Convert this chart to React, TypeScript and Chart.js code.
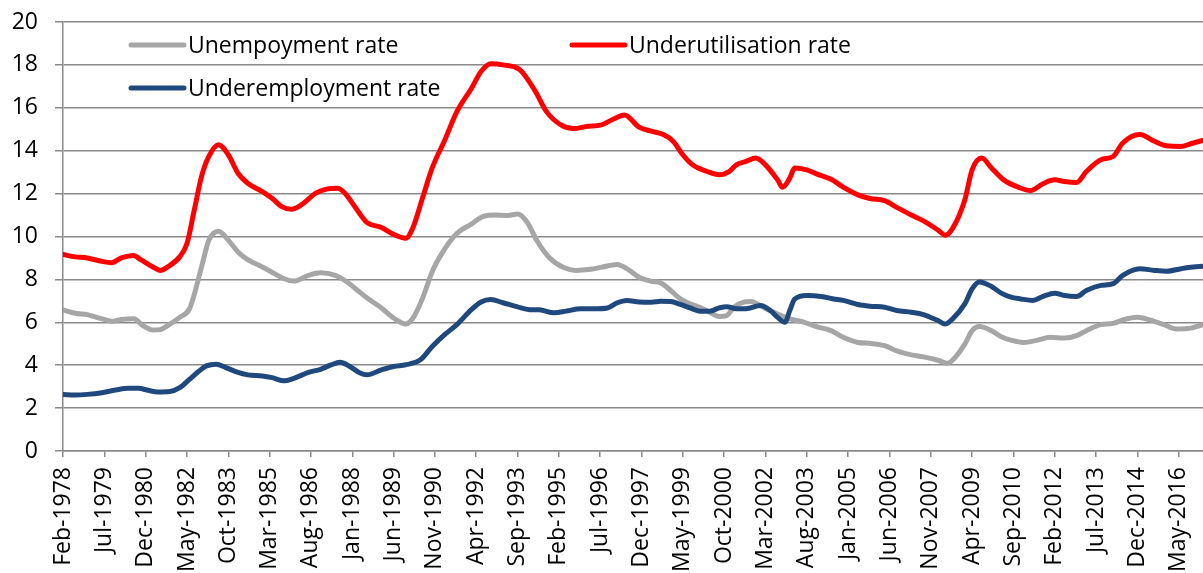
import React, { useEffect, useRef } from "react";
import { Chart, registerables } from "chart.js";

Chart.register(...registerables);

// ---------- data ----------
const MONTH_NAMES = ["Jan", "Feb", "Mar", "Apr", "May", "Jun", "Jul", "Aug", "Sep", "Oct", "Nov", "Dec"];
const FIRST_MONTH = "1978-02";
const LAST_MONTH = "2017-03";
const TICK_STEP_MONTHS = 17;
const Y_MIN = 0;
const Y_MAX = 20;
const Y_STEP = 2;

const seriesNames = ["Unempoyment rate", "Underutilisation rate", "Underemployment rate"];
const seriesColors = ["#A6A6A6", "#FF0000", "#1F497D"];

const unemploymentDates = [
  "1978-02", "1978-07", "1978-12", "1979-06", "1979-10", "1980-02", "1980-07", "1980-11", "1981-03", "1981-06",
  "1981-10", "1982-02", "1982-06", "1982-08", "1982-11", "1983-02", "1983-06", "1983-10", "1984-02", "1984-06",
  "1984-12", "1985-05", "1985-09", "1986-01", "1986-07", "1986-12", "1987-06", "1987-10", "1988-02", "1988-07",
  "1989-01", "1989-06", "1989-11", "1990-02", "1990-06", "1990-10", "1991-03", "1991-08", "1992-02", "1992-07",
  "1992-12", "1993-05", "1993-09", "1994-01", "1994-05", "1994-10", "1995-04", "1995-09", "1996-03", "1996-08",
  "1997-02", "1997-06", "1997-11", "1998-04", "1998-08", "1998-12", "1999-04", "1999-08", "1999-12", "2000-04",
  "2000-08", "2000-11", "2001-02", "2001-06", "2001-09", "2002-02", "2002-08", "2003-01", "2003-07", "2003-12",
  "2004-06", "2004-11", "2005-05", "2005-10", "2006-04", "2006-09", "2007-03", "2007-08", "2008-02", "2008-06",
  "2008-09", "2009-01", "2009-04", "2009-07", "2009-12", "2010-04", "2010-08", "2011-01", "2011-07", "2011-12",
  "2012-06", "2012-11", "2013-03", "2013-09", "2014-02", "2014-06", "2014-12", "2015-05", "2015-11", "2016-04",
  "2016-10", "2017-03",
];
const unemploymentValues = [
  6.58, 6.42, 6.36, 6.16, 6.05, 6.13, 6.16, 5.84, 5.64, 5.66,
  5.92, 6.23, 6.62, 7.3, 8.58, 9.83, 10.25, 9.83, 9.28, 8.92,
  8.58, 8.27, 8.03, 7.92, 8.19, 8.31, 8.19, 7.95, 7.6, 7.14,
  6.67, 6.2, 5.92, 6.2, 7.14, 8.39, 9.41, 10.14, 10.58, 10.94,
  11.0, 10.98, 11.05, 10.66, 9.8, 9.02, 8.55, 8.42, 8.47, 8.58,
  8.7, 8.5, 8.1, 7.91, 7.83, 7.48, 7.09, 6.86, 6.7, 6.47,
  6.27, 6.31, 6.7, 6.94, 6.97, 6.7, 6.39, 6.16, 6.0, 5.8,
  5.61, 5.3, 5.06, 5.02, 4.91, 4.67, 4.48, 4.39, 4.23, 4.09,
  4.36, 4.98, 5.61, 5.8, 5.61, 5.33, 5.17, 5.06, 5.17, 5.3,
  5.27, 5.38, 5.61, 5.89, 5.95, 6.11, 6.23, 6.11, 5.89, 5.69,
  5.73, 5.89,
];

const underutilisationDates = [
  "1978-02", "1978-07", "1978-12", "1979-06", "1979-10", "1980-02", "1980-07", "1980-10", "1981-03", "1981-06",
  "1981-09", "1982-02", "1982-05", "1982-08", "1982-11", "1983-02", "1983-06", "1983-10", "1984-02", "1984-06",
  "1984-12", "1985-04", "1985-08", "1985-12", "1986-04", "1986-10", "1987-02", "1987-07", "1987-10", "1988-02",
  "1988-07", "1989-01", "1989-06", "1989-11", "1990-02", "1990-06", "1990-10", "1991-03", "1991-08", "1992-02",
  "1992-06", "1992-10", "1993-03", "1993-10", "1994-04", "1994-09", "1995-03", "1995-08", "1996-02", "1996-07",
  "1997-01", "1997-05", "1997-11", "1998-04", "1998-09", "1999-01", "1999-05", "1999-09", "2000-03", "2000-08",
  "2000-12", "2001-03", "2001-07", "2001-11", "2002-03", "2002-08", "2002-10", "2003-01", "2003-03", "2003-08",
  "2003-12", "2004-06", "2004-11", "2005-05", "2005-10", "2006-04", "2006-09", "2007-03", "2007-08", "2008-02",
  "2008-05", "2008-08", "2009-01", "2009-04", "2009-08", "2009-12", "2010-05", "2010-11", "2011-04", "2011-09",
  "2012-02", "2012-06", "2012-11", "2013-03", "2013-09", "2014-02", "2014-06", "2015-01", "2015-07", "2015-12",
  "2016-06", "2016-11", "2017-03",
];
const underutilisationValues = [
  9.16, 9.05, 9.0, 8.84, 8.78, 9.0, 9.12, 8.92, 8.58, 8.42,
  8.58, 9.05, 9.67, 11.23, 12.8, 13.73, 14.28, 13.81, 12.95, 12.48,
  12.09, 11.78, 11.39, 11.27, 11.47, 12.02, 12.2, 12.25, 12.02, 11.4,
  10.66, 10.42, 10.1, 9.92, 10.42, 11.83, 13.23, 14.48, 15.81, 16.9,
  17.69, 18.05, 18.0, 17.77, 16.83, 15.81, 15.19, 15.03, 15.14, 15.19,
  15.5, 15.66, 15.1, 14.91, 14.75, 14.44, 13.81, 13.34, 13.03, 12.88,
  13.03, 13.34, 13.5, 13.66, 13.34, 12.64, 12.3, 12.72, 13.19, 13.11,
  12.92, 12.67, 12.3, 11.94, 11.77, 11.67, 11.36, 11.0, 10.73, 10.3,
  10.06, 10.38, 11.7, 13.11, 13.66, 13.19, 12.64, 12.3, 12.14, 12.45,
  12.64, 12.56, 12.52, 13.03, 13.58, 13.73, 14.36, 14.75, 14.44, 14.23,
  14.2, 14.36, 14.48,
];

const underemploymentDates = [
  "1978-02", "1978-07", "1978-12", "1979-06", "1979-11", "1980-05", "1980-09", "1981-01", "1981-05", "1981-10",
  "1982-02", "1982-06", "1982-10", "1983-01", "1983-05", "1983-09", "1984-02", "1984-06", "1984-12", "1985-04",
  "1985-09", "1986-01", "1986-07", "1986-12", "1987-04", "1987-08", "1987-12", "1988-04", "1988-07", "1989-01",
  "1989-06", "1989-11", "1990-05", "1990-10", "1991-03", "1991-08", "1992-02", "1992-06", "1992-10", "1993-03",
  "1993-09", "1994-02", "1994-06", "1994-12", "1995-05", "1995-11", "1996-04", "1996-10", "1997-02", "1997-06",
  "1997-11", "1998-04", "1998-08", "1998-12", "1999-04", "1999-08", "1999-12", "2000-04", "2000-08", "2000-11",
  "2001-03", "2001-07", "2002-01", "2002-05", "2002-08", "2002-11", "2003-01", "2003-03", "2003-08", "2004-02",
  "2004-07", "2004-11", "2005-05", "2005-10", "2006-04", "2006-09", "2007-03", "2007-08", "2008-02", "2008-05",
  "2008-08", "2009-01", "2009-04", "2009-07", "2009-12", "2010-04", "2010-08", "2010-12", "2011-05", "2011-09",
  "2012-02", "2012-06", "2012-11", "2013-03", "2013-09", "2014-02", "2014-06", "2015-01", "2015-07", "2015-12",
  "2016-06", "2016-11", "2017-03",
];
const underemploymentValues = [
  2.64, 2.61, 2.64, 2.72, 2.83, 2.92, 2.92, 2.83, 2.75, 2.77,
  2.95, 3.34, 3.73, 3.97, 4.05, 3.89, 3.66, 3.55, 3.5, 3.42,
  3.27, 3.39, 3.66, 3.81, 4.0, 4.14, 3.94, 3.65, 3.55, 3.78,
  3.94, 4.02, 4.25, 4.88, 5.42, 5.89, 6.59, 6.95, 7.06, 6.91,
  6.72, 6.59, 6.58, 6.44, 6.52, 6.63, 6.63, 6.67, 6.91, 7.02,
  6.95, 6.94, 6.98, 6.97, 6.83, 6.67, 6.52, 6.52, 6.67, 6.73,
  6.63, 6.63, 6.78, 6.55, 6.23, 6.0, 6.55, 7.08, 7.25, 7.2,
  7.09, 7.02, 6.83, 6.75, 6.7, 6.55, 6.47, 6.36, 6.08, 5.92,
  6.16, 6.86, 7.56, 7.88, 7.67, 7.36, 7.17, 7.09, 7.02, 7.2,
  7.36, 7.25, 7.2, 7.48, 7.72, 7.8, 8.19, 8.5, 8.42, 8.38,
  8.5, 8.58, 8.61,
];

// ---------- helpers ----------
function parseYM(s: string): [number, number] {
  const [y, m] = s.split("-").map(Number);
  return [y, m];
}
function monthIndex(s: string): number {
  const [y, m] = parseYM(s);
  const [y0, m0] = parseYM(FIRST_MONTH);
  return (y - y0) * 12 + (m - m0);
}
function monthLabel(i: number): string {
  const [y0, m0] = parseYM(FIRST_MONTH);
  const t = m0 - 1 + Math.round(i);
  return MONTH_NAMES[t % 12] + "-" + (y0 + Math.floor(t / 12));
}
function toPoints(dates: string[], values: number[]) {
  return dates.map((d, i) => ({ x: monthIndex(d), y: values[i] }));
}

const FONT_FAMILY = "'Open Sans', 'DejaVu Sans', sans-serif";
const GRID_COLOR = "#898989";

const legendPlugin = {
  id: "insideLegend",
  afterDatasetsDraw(chart: any) {
    const { ctx, chartArea } = chart;
    const L = chartArea.left;
    const T = chartArea.top;
    const entries = [
      { idx: 0, dx: 68, dy: 23 },
      { idx: 1, dx: 509, dy: 23 },
      { idx: 2, dx: 68, dy: 66 },
    ];
    ctx.save();
    ctx.font = `23px ${FONT_FAMILY}`;
    ctx.fillStyle = "#000000";
    ctx.textAlign = "left";
    ctx.textBaseline = "alphabetic";
    entries.forEach((e) => {
      const x0 = L + e.dx;
      const y = T + e.dy;
      ctx.strokeStyle = seriesColors[e.idx];
      ctx.lineWidth = 5;
      ctx.lineCap = "round";
      ctx.beginPath();
      ctx.moveTo(x0, y);
      ctx.lineTo(x0 + 53, y);
      ctx.stroke();
      ctx.fillText(seriesNames[e.idx], x0 + 57, y + 7.5);
    });
    ctx.restore();
  },
};

export default function App() {
  const canvasRef = useRef<HTMLCanvasElement | null>(null);

  useEffect(() => {
    if (!canvasRef.current) return;
    const xMax = monthIndex(LAST_MONTH);
    const tickValues: number[] = [];
    for (let v = 0; v <= xMax; v += TICK_STEP_MONTHS) tickValues.push(v);

    const allDates = [unemploymentDates, underutilisationDates, underemploymentDates];
    const allValues = [unemploymentValues, underutilisationValues, underemploymentValues];
    const drawOrder = [2, 1, 0];

    const chart = new Chart(canvasRef.current, {
      type: "line",
      data: {
        datasets: seriesNames.map((name, i) => ({
          label: name,
          data: toPoints(allDates[i], allValues[i]),
          borderColor: seriesColors[i],
          backgroundColor: seriesColors[i],
          borderWidth: 5,
          pointRadius: 0,
          fill: false,
          cubicInterpolationMode: "monotone" as const,
          borderCapStyle: "round" as const,
          borderJoinStyle: "round" as const,
          order: drawOrder[i],
        })),
      },
      options: {
        animation: false,
        responsive: true,
        maintainAspectRatio: false,
        layout: { padding: { top: 22, right: 0, bottom: 0, left: 0 } },
        plugins: {
          legend: { display: false },
          tooltip: { enabled: false },
        },
        scales: {
          x: {
            type: "linear",
            min: 0,
            max: xMax,
            afterBuildTicks: (scale: any) => {
              scale.ticks = tickValues.map((v) => ({ value: v }));
            },
            afterFit: (scale: any) => {
              scale.height = 122;
              scale.paddingLeft = 0;
              scale.paddingRight = 0;
            },
            ticks: {
              autoSkip: false,
              minRotation: 90,
              maxRotation: 90,
              padding: 10,
              color: "#000000",
              font: { family: FONT_FAMILY, size: 23 },
              callback: (v: any) => monthLabel(Number(v)),
            },
            grid: {
              drawOnChartArea: false,
              drawTicks: true,
              tickLength: 6,
              color: GRID_COLOR,
              lineWidth: 1.5,
            },
            border: { display: true, color: GRID_COLOR, width: 1.5 },
          },
          y: {
            min: Y_MIN,
            max: Y_MAX,
            afterFit: (scale: any) => {
              scale.width = 63;
              scale.paddingTop = 0;
              scale.paddingBottom = 0;
            },
            ticks: {
              stepSize: Y_STEP,
              padding: 17,
              color: "#000000",
              font: { family: FONT_FAMILY, size: 23 },
            },
            grid: {
              color: GRID_COLOR,
              lineWidth: 1.5,
              tickLength: 8,
              drawTicks: true,
            },
            border: { display: true, color: GRID_COLOR, width: 1.5 },
          },
        },
      },
      plugins: [legendPlugin],
    });
    return () => chart.destroy();
  }, []);

  return (
    <div style={{ position: "absolute", left: 0, top: 0, width: 1203, height: 573, background: "#ffffff" }}>
      <canvas ref={canvasRef} />
    </div>
  );
}
